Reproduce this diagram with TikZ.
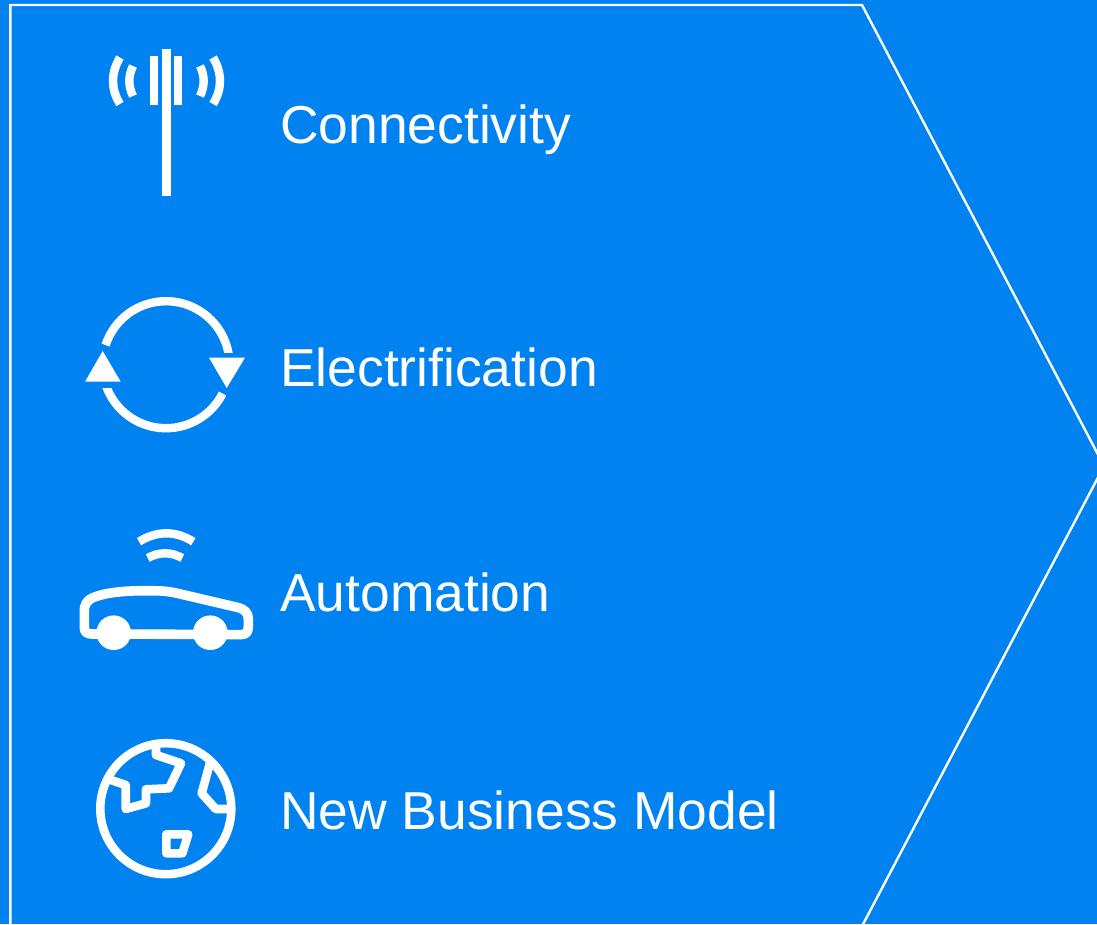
\documentclass[tikz,border=0pt]{standalone}
\usepackage{fontspec}
\setmainfont{Liberation Sans}
\definecolor{bgblue}{RGB}{0,130,241}
\tikzset{
  px/.style={x=1pt,y=-1pt},
  label/.style={anchor=base west,inner sep=0pt,text=white,font=\fontsize{53.4pt}{60pt}\selectfont},
  ln/.style={draw=white,line width=#1,line join=round},
  ln/.default=8.4pt
}
\begin{document}
\begin{tikzpicture}[px]
\useasboundingbox (0,0) rectangle (1097,924);
\fill[bgblue] (0,0) rectangle (1097,924);
% frame
\clip (0,0) rectangle (1097,924);
\draw[white,line width=2.4pt,line join=miter] (10.3,930) -- (10.3,5) -- (862,5) -- (1104,466) -- (860,930);
% labels
\node[label] (t1) at (280,143) {Connectivity};
\node[label] (t2) at (280,386) {Electrification};
\node[label] (t3) at (280,611) {Automation};
\node[label] (t4) at (280,829) {New Business Model};
% antenna
\fill[white] (162,49) rectangle (171,196);
\fill[white] (150,56) rectangle (158,105);
\fill[white] (174,56) rectangle (182,105);
\draw[ln] (120,57.5) .. controls (110.7,73) and (110.7,89) .. (120,104);
\draw[ln] (133,66) .. controls (128.1,76) and (128.1,86) .. (133,96);
\draw[ln] (213,57.5) .. controls (222.3,73) and (222.3,89) .. (213,104);
\draw[ln] (200,66) .. controls (204.9,76) and (204.9,86) .. (200,96);
% cycle
\begin{scope}
  \clip (100,290) rectangle (240,352);
  \draw[ln] (166,364.7) ++(0:63.5) arc[start angle=0,end angle=-162,radius=63.5];
\end{scope}
\begin{scope}
  \clip (90,388) rectangle (240,440);
  \draw[ln] (166,364.7) ++(180:63.5) arc[start angle=180,end angle=27,radius=63.5];
\end{scope}
\fill[white] (102.7,351) -- (120.7,381.7) -- (85,381.7) -- cycle;
\fill[white] (209,357.7) -- (245,357.7) -- (226.7,388) -- cycle;
% car
\draw[ln=9.6pt] (113.7,634) -- (92,634) .. controls (86.5,634) and (84.3,632) .. (84.3,627)
  -- (84.3,612) .. controls (84.3,604) and (87,600) .. (93.3,597.5)
  .. controls (100,595) and (106,593.5) .. (113.3,592.6)
  .. controls (125,591) and (136,590.7) .. (146.7,590.7)
  .. controls (158,590.7) and (166,590.8) .. (176,593)
  -- (238,607.5) .. controls (245,609.5) and (248.3,613) .. (248.3,619)
  -- (248.3,627) .. controls (248.3,632) and (246,634.6) .. (241,634.6) -- (113.7,634) -- cycle;
\fill[white] (113.7,632.7) circle[radius=17.3];
\fill[white] (210.3,632.7) circle[radius=17.3];
\draw[ln] (139,541.7) .. controls (157,530.5) and (175.5,530.5) .. (193.3,541.7);
\draw[ln] (147.7,558) .. controls (159.2,551.7) and (170.8,551.7) .. (182.3,558);
% globe
\draw[ln=8.5pt] (165.8,808.7) circle[radius=65.5];
\draw[ln=8.6pt] (156,745) -- (156,755) -- (181,763.3) -- (169,788.3) -- (146,789.3) -- (146,803.3) -- (125.7,809) -- (125.7,785) -- (108,779);
\draw[ln=8.6pt] (210.5,761) -- (201.7,793.3) -- (215.7,809) -- (230,809);
\draw[ln=8.6pt] (166.3,834.3) -- (188.3,834.3) -- (182.3,853.3) -- (166.3,853.3) -- cycle;
\end{tikzpicture}
\end{document}
